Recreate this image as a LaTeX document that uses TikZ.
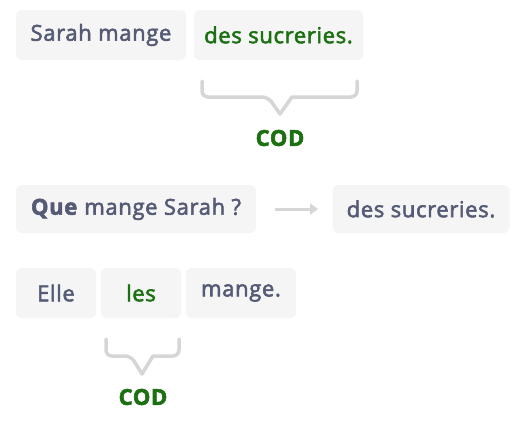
\documentclass[tikz,border=0pt]{standalone}
\usepackage{fontspec}
\setmainfont{Open Sans}[FakeBold=2.5, LetterSpace=3]
\usetikzlibrary{arrows.meta}
\definecolor{txtgray}{HTML}{555A75}
\definecolor{codgreen}{HTML}{1C7012}
\definecolor{boxfill}{HTML}{F5F5F6}
\definecolor{bracegray}{HTML}{D6D6D6}
\begin{document}
\begin{tikzpicture}[x=1pt,y=-1pt,
  wbox/.style={fill=boxfill, rounded corners=6pt, inner sep=0pt, font=\fontsize{22}{24}\selectfont, text=txtgray},
  greentxt/.style={text=codgreen},
  codlabel/.style={font=\fontsize{22}{24}\selectfont\bfseries, text=codgreen},
  bracestyle/.style={draw=bracegray, line width=3.5pt, line cap=round, line join=round},
  arrowstyle/.style={draw=bracegray, line width=3pt, -{Triangle[length=8pt,width=11pt]}}]
\useasboundingbox (0,0) rectangle (524,424);
\fill[white] (0,0) rectangle (524,424);
% row 1
\node[wbox, minimum width=170pt, minimum height=50pt] (b1) at (101,35) {Sarah mange};
\node[wbox, greentxt, minimum width=169pt, minimum height=50pt] (b2) at (278.5,35) {des sucreries.};
\draw[bracestyle, rounded corners=6pt] (202,81) -- (202,97) -- (268,97) [sharp corners] -- (280,114) -- (292,97) [rounded corners=6pt] -- (357,97) -- (357,81);
\node[codlabel] (c1) at (280,138) {COD};
% row 2
\node[wbox, minimum width=240pt, minimum height=48pt] (b3) at (136,209) {\textbf{Que} mange Sarah ?};
\node[wbox, minimum width=177pt, minimum height=48pt] (b4) at (421,209) {des sucreries.};
\coordinate (a1) at (275,209);
\coordinate (a2) at (318,209);
\draw[arrowstyle] (a1) -- (a2);
% row 3
\node[wbox, minimum width=80pt, minimum height=50pt] (e1) at (56,293) {Elle};
\node[wbox, greentxt, minimum width=80pt, minimum height=50pt] (e2) at (141,293) {les};
\node[wbox, minimum width=110pt, minimum height=50pt] (e3) at (241,293) {mange.};
\draw[bracestyle, rounded corners=6pt] (106,339) -- (106,356) -- (131,356) [sharp corners] -- (142,374) -- (153,356) [rounded corners=6pt] -- (179,356) -- (179,339);
\node[codlabel] (c2) at (143,397) {COD};
\end{tikzpicture}
\end{document}
